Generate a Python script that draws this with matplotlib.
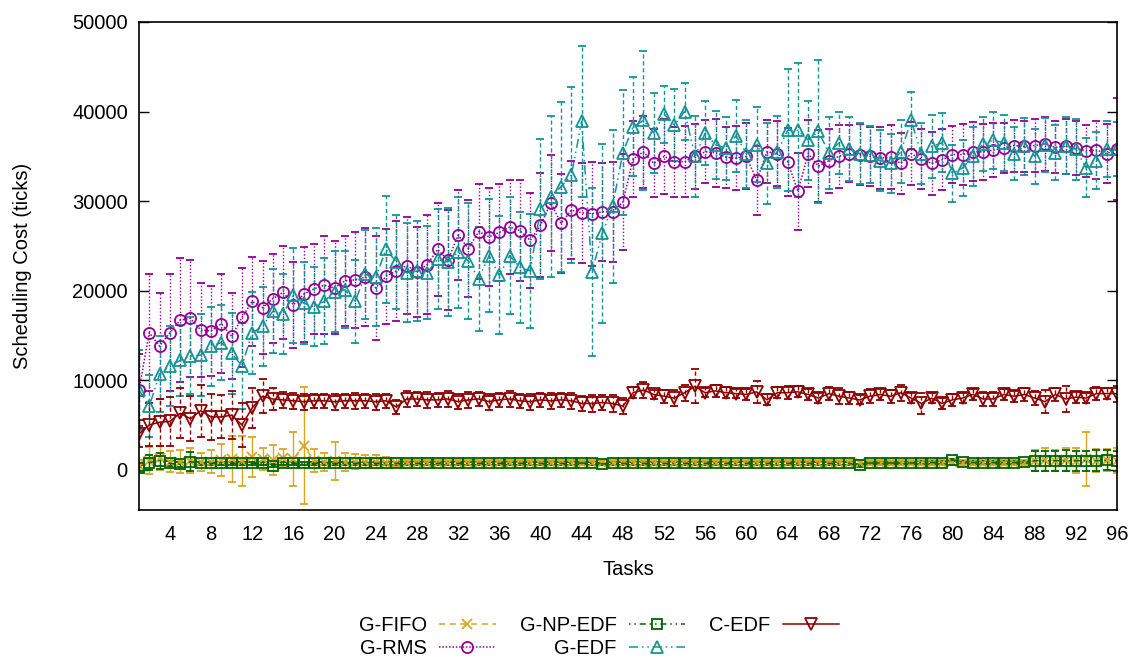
import numpy as np
import matplotlib
matplotlib.use("Agg")
import matplotlib.pyplot as plt

plt.rcParams['font.family'] = ['Liberation Sans', 'DejaVu Sans']

tasks = list(range(1, 97))

fifo_mean = [500, 1000, 1300, 900, 900, 1000, 900, 900, 1100, 1200, 1000, 1400,
             1200, 1100, 1300, 1200, 2700, 1000, 900, 1000, 900, 900, 900, 900,
             800, 800, 800, 800, 800, 800, 800, 800, 800, 800, 800, 800,
             800, 800, 800, 800, 800, 800, 800, 800, 800, 800, 800, 800,
             800, 800, 800, 800, 800, 800, 800, 800, 800, 800, 800, 800,
             800, 800, 800, 800, 800, 800, 800, 800, 800, 800, 800, 800,
             800, 800, 800, 800, 800, 800, 800, 850, 800, 800, 800, 800,
             800, 800, 800, 1000, 1100, 1000, 1100, 1000, 1200, 1000, 1100, 1000]
fifo_err = [600, 1500, 1300, 1200, 1300, 1400, 1000, 1300, 1800, 2600, 2800, 2200,
            1200, 1700, 1000, 3000, 6500, 1300, 1000, 2100, 1000, 800, 700, 700,
            600, 500, 300, 300, 300, 300, 300, 300, 300, 300, 300, 300,
            300, 300, 300, 300, 300, 300, 300, 300, 300, 300, 300, 300,
            300, 300, 300, 300, 300, 300, 300, 300, 300, 300, 300, 300,
            300, 300, 300, 300, 300, 300, 300, 300, 300, 300, 300, 300,
            300, 300, 300, 300, 300, 300, 300, 300, 300, 300, 300, 300,
            300, 300, 300, 1200, 1300, 1200, 1300, 1400, 3000, 1300, 1200, 1400]

rms_mean = [8900, 15300, 13800, 15300, 16700, 16900, 15600, 15500, 16300, 14900, 17000, 18800,
            18100, 19100, 19800, 18400, 19600, 20200, 20600, 20300, 21100, 21200, 21500, 20300,
            21600, 22200, 22800, 22100, 22900, 24600, 23400, 26200, 24700, 26600, 26000, 26500,
            27100, 26700, 25600, 27300, 29800, 27500, 29000, 28700, 28600, 28800, 28800, 29900,
            34700, 35500, 34200, 35000, 34400, 34400, 35000, 35500, 35400, 34900, 34800, 35000,
            32300, 35500, 35300, 34400, 31100, 35300, 33900, 34500, 35000, 35300, 35200, 35000,
            34800, 34900, 34200, 35300, 34700, 34200, 34600, 35200, 35200, 35500, 35500, 35700,
            35900, 36200, 36100, 36200, 36400, 36000, 36100, 35900, 35600, 35700, 35300, 35800]
rms_err = [4000, 6500, 5900, 6500, 6900, 6500, 5200, 5000, 5500, 4800, 5500, 5000,
           5200, 5000, 5200, 4800, 5300, 5000, 5500, 5200, 5000, 5400, 5500, 5800,
           5300, 5600, 5400, 5000, 5500, 5200, 5600, 5000, 5400, 5300, 5500, 5400,
           5200, 5600, 5300, 5800, 5400, 5500, 5500, 5600, 5800, 5500, 5600, 5400,
           4200, 4000, 3800, 4200, 3900, 4000, 3600, 3500, 3800, 3400, 3600, 3700,
           3800, 3500, 3600, 3800, 4300, 3700, 4000, 3600, 3500, 3200, 3400, 3300,
           3500, 3600, 3400, 3500, 3300, 3500, 3400, 3200, 3400, 3300, 3100, 3000,
           2800, 2900, 2800, 3000, 3000, 2900, 3100, 3000, 2900, 3200, 3300, 5700]

npedf_mean = [200, 800, 1000, 700, 600, 900, 700, 700, 700, 700, 700, 700,
              700, 450, 700, 700, 700, 700, 700, 700, 700, 700, 700, 700,
              700, 700, 700, 700, 700, 700, 700, 700, 700, 700, 700, 700,
              700, 700, 700, 700, 700, 700, 700, 750, 700, 650, 700, 700,
              700, 700, 700, 700, 700, 700, 700, 700, 700, 700, 700, 700,
              700, 700, 700, 700, 700, 700, 700, 700, 700, 700, 500, 750,
              750, 750, 750, 750, 800, 800, 800, 1100, 850, 800, 800, 800,
              800, 800, 850, 1000, 1000, 1000, 1000, 1000, 1000, 1000, 1050, 1000]
npedf_err = [300, 800, 900, 300, 300, 1100, 150, 150, 150, 150, 150, 150,
             150, 150, 150, 150, 150, 150, 150, 150, 150, 150, 150, 150,
             150, 150, 150, 150, 150, 150, 150, 150, 150, 150, 150, 150,
             150, 150, 150, 150, 150, 150, 150, 150, 150, 150, 150, 150,
             150, 150, 150, 150, 150, 150, 150, 150, 150, 150, 150, 150,
             150, 150, 150, 150, 150, 150, 150, 150, 150, 150, 150, 150,
             150, 150, 150, 150, 150, 150, 150, 150, 150, 150, 150, 150,
             150, 150, 150, 1100, 1100, 1100, 1200, 1100, 1100, 1200, 1100, 1100]

gedf_mean = [8900, 7100, 10700, 11600, 12200, 12700, 12800, 13800, 14200, 13000, 11600, 15300,
             16000, 17700, 17400, 19500, 18600, 18200, 18800, 19900, 20100, 18800, 21800, 21500,
             24600, 23200, 22000, 22200, 22000, 23500, 23200, 24300, 23300, 21300, 23900, 21700,
             23900, 22600, 22200, 29100, 30500, 31600, 32900, 38900, 22100, 26400, 29400, 35400,
             38300, 39000, 37600, 39700, 38500, 40000, 35000, 37600, 36300, 35900, 37300, 35300,
             36300, 34200, 35500, 37900, 37900, 36800, 37800, 35400, 36500, 35800, 35300, 35200,
             34500, 34200, 35500, 39000, 35300, 36100, 36500, 33100, 33700, 35000, 36400, 36800,
             36500, 35300, 36100, 35000, 36300, 35400, 36200, 35800, 33700, 34500, 35800, 35800]
gedf_err = [4500, 3500, 4200, 4500, 4000, 4300, 4600, 4400, 4200, 4500, 4800, 4600,
            4400, 4700, 4500, 5300, 4600, 4400, 4800, 4500, 4300, 4600, 5000, 5500,
            6000, 5200, 5500, 5600, 5200, 5600, 6000, 6200, 6500, 5800, 6300, 6600,
            6500, 6200, 6400, 7800, 9000, 9500, 9800, 8400, 9400, 10000, 8500, 7000,
            5500, 7800, 4500, 3200, 4000, 3200, 4500, 3600, 3800, 3500, 4000, 3800,
            4200, 4500, 4000, 6800, 7500, 4400, 8000, 4000, 3500, 3600, 3400, 3200,
            3400, 3300, 3500, 3200, 3400, 3500, 3300, 3200, 3100, 3300, 3000, 3200,
            3100, 3000, 3200, 3100, 3000, 3100, 3200, 3400, 3300, 3200, 3100, 3000]

cedf_mean = [4000, 5000, 5300, 5400, 6300, 5700, 6600, 5900, 5900, 6100, 5000, 6900,
             8200, 7900, 7800, 7700, 7600, 7700, 7700, 7600, 7700, 7700, 7700, 7600,
             7700, 7000, 7900, 7900, 7800, 7800, 7900, 7600, 7800, 7900, 7600, 7800,
             7900, 7700, 7600, 7800, 7700, 7800, 7700, 7400, 7400, 7500, 7400, 7100,
             8600, 8900, 8400, 8200, 8000, 8600, 9300, 8600, 8800, 8600, 8500, 8400,
             8700, 7800, 8600, 8600, 8700, 8400, 8000, 8500, 8200, 8000, 7800, 8200,
             8400, 8200, 8600, 8000, 7400, 8000, 7400, 7800, 8000, 8400, 7900, 7900,
             8400, 8200, 8400, 8000, 7600, 8400, 7900, 8100, 8000, 8500, 8500, 8500]
cedf_err = [1500, 2400, 2600, 2700, 2800, 2500, 2900, 2600, 2400, 2700, 2500, 2200,
            1900, 1200, 900, 900, 900, 800, 800, 900, 800, 900, 800, 900,
            800, 800, 900, 800, 900, 800, 900, 800, 900, 800, 900, 800,
            900, 800, 900, 800, 900, 800, 900, 800, 900, 800, 900, 900,
            600, 900, 500, 700, 900, 900, 1900, 500, 700, 600, 500, 600,
            1200, 600, 600, 700, 600, 600, 600, 700, 900, 700, 500, 800,
            600, 700, 900, 600, 1200, 600, 600, 700, 600, 600, 800, 800,
            600, 600, 700, 800, 1300, 700, 1400, 600, 600, 700, 600, 900]

fs = 14.5

fig, ax = plt.subplots(figsize=(11.41, 6.62), dpi=100)
fig.subplots_adjust(left=0.1218, right=0.979, top=0.9668, bottom=0.2296)

# name, mean, err, colour, marker, size, line style, error bar style
series = [
    ("G-FIFO", fifo_mean, fifo_err, "#daa520", "x", 7.5, (0, (4, 3)), "-"),
    ("G-RMS", rms_mean, rms_err, "#940094", "o", 8, (0, (1, 1.2)), (0, (1, 1.5))),
    ("G-NP-EDF", npedf_mean, npedf_err, "#006400", "s", 7, (0, (1, 2.5, 1, 2.5, 4, 2.5)), "-"),
    ("G-EDF", gedf_mean, gedf_err, "#129494", "^", 8.5, (0, (6, 2.5, 1, 2.5, 1, 2.5)), (0, (3, 2))),
    ("C-EDF", cedf_mean, cedf_err, "#8b0000", "v", 8.5, "-", (0, (3, 2))),
]

handles = []
for name, mean, err, color, marker, ms, ls, els in series:
    cont = ax.errorbar(tasks, mean, yerr=err, color=color, ecolor=color,
                       marker=marker, markersize=ms, markerfacecolor="none",
                       markeredgewidth=1.3, linestyle=ls, linewidth=1.1,
                       elinewidth=1.0, capsize=3, capthick=1.0, label=name)
    for bar in cont[2]:
        bar.set_linestyle(els)
    handles.append(cont[0])

ax.set_xlim(1, 96)
ax.set_ylim(-4500, 50000)
ax.set_xticks(range(4, 97, 4))
ax.set_yticks(range(0, 50001, 10000))
ax.tick_params(axis="x", length=0, pad=11, labelsize=fs)
ax.tick_params(axis="y", direction="in", length=7, width=1, pad=8, labelsize=fs,
               right=True)
for sp in ax.spines.values():
    sp.set_linewidth(1.2)

ax.set_xlabel("Tasks", fontsize=fs, labelpad=11)
ax.set_ylabel("Scheduling Cost (ticks)", fontsize=fs, labelpad=29)

fig.legend(handles, [s[0] for s in series], loc="center",
           bbox_to_anchor=(599 / 1141, 1 - 637 / 662), ncol=3, frameon=False,
           markerfirst=False, fontsize=fs, handlelength=2.8, handletextpad=0.6,
           columnspacing=1.2, labelspacing=0.2)

fig.savefig("out.png", dpi=100)
